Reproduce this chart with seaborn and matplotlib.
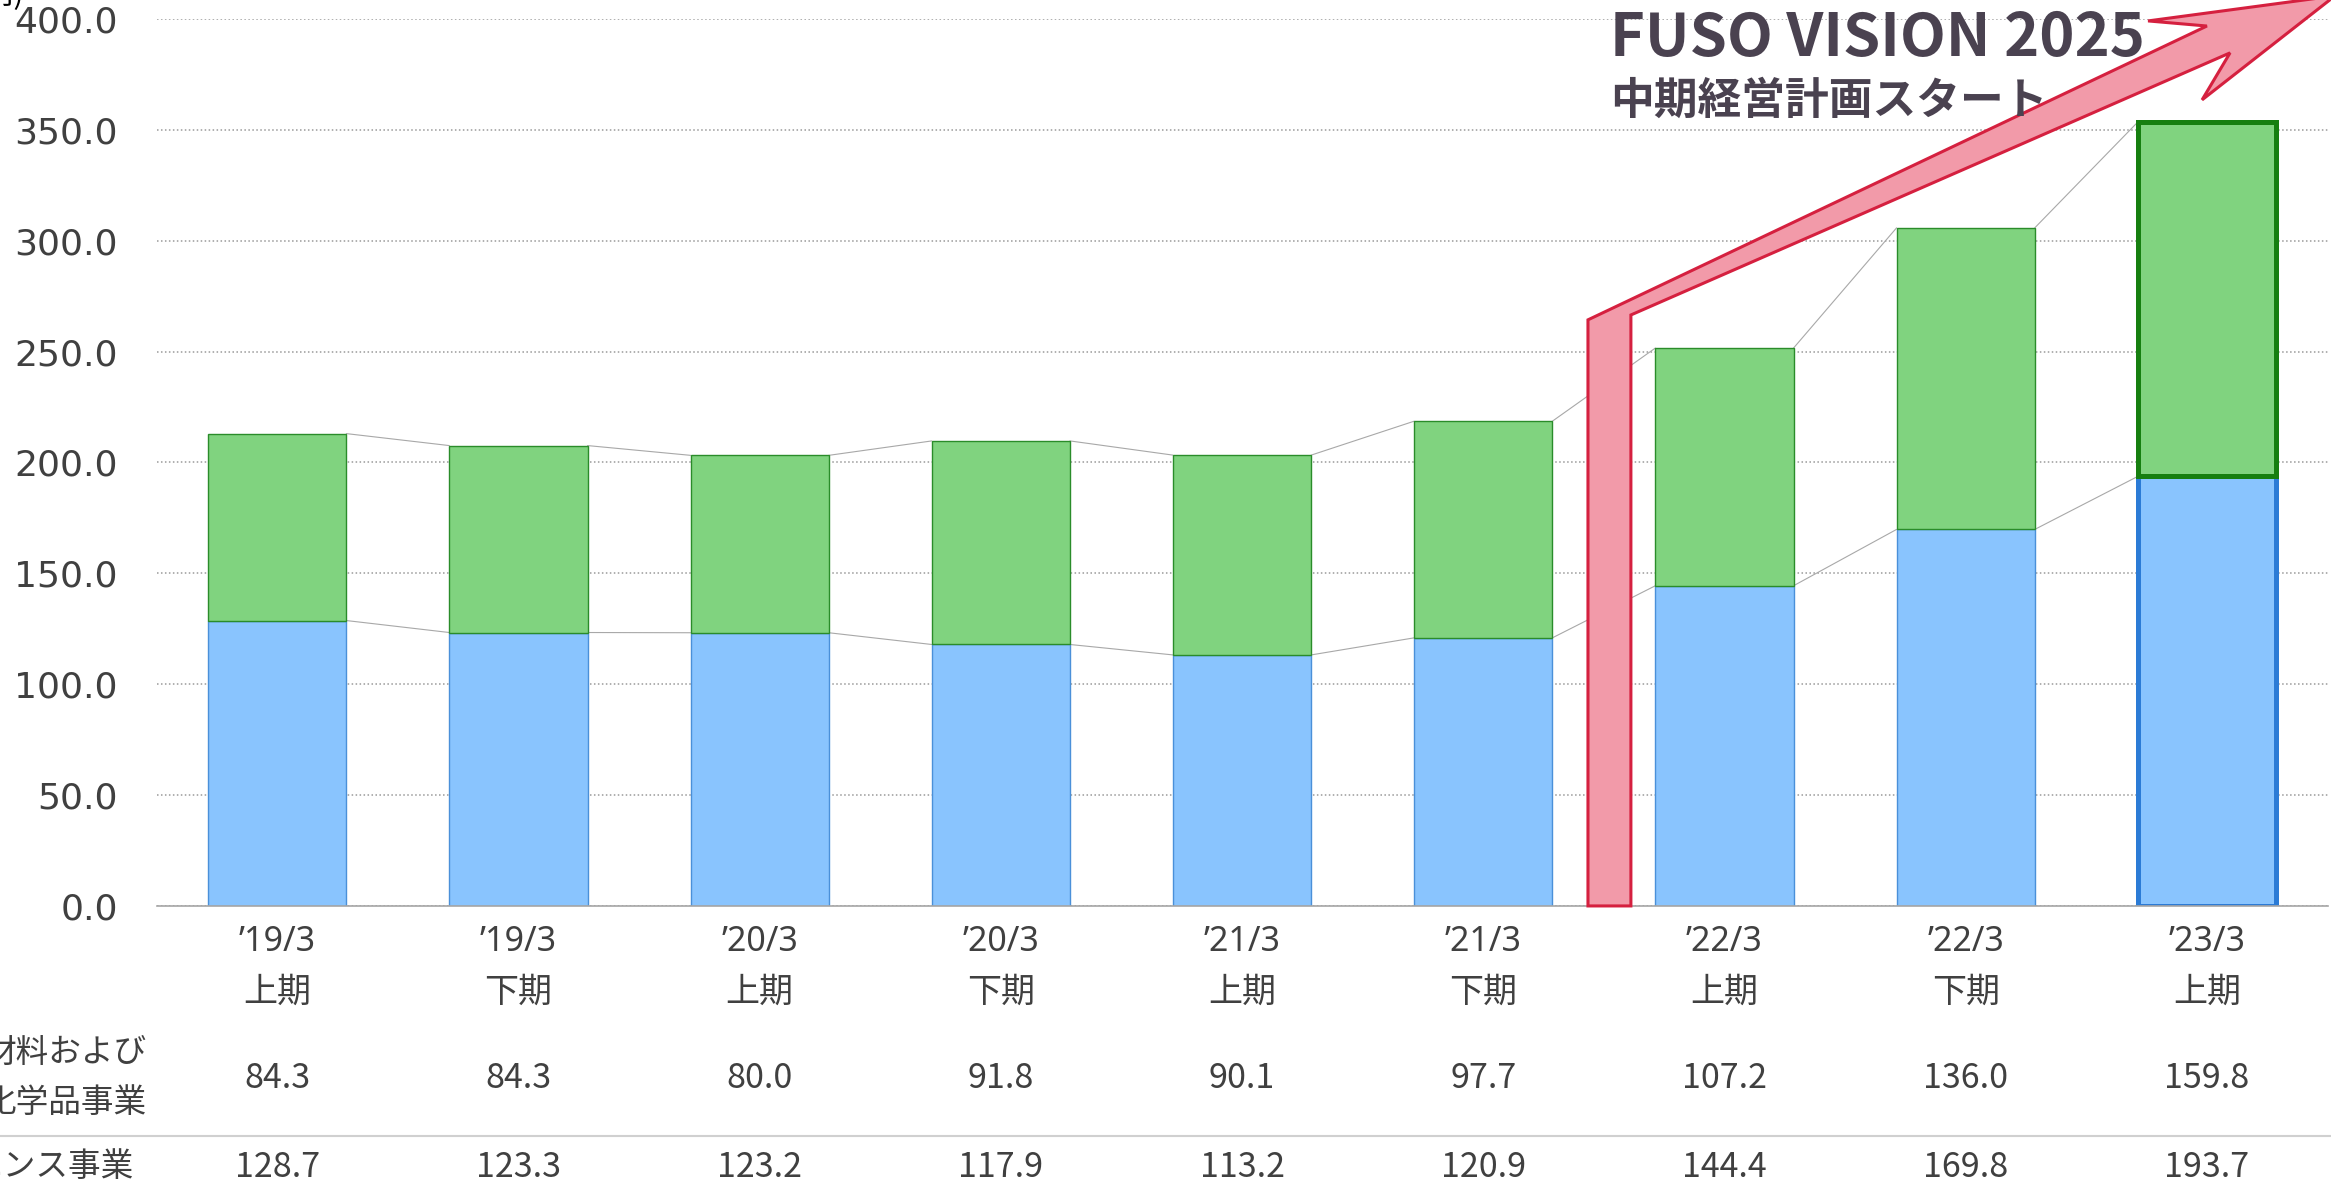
import matplotlib.pyplot as plt
import matplotlib.transforms as mtransforms
from matplotlib.lines import Line2D
from matplotlib.patches import Polygon
import pandas as pd
import seaborn as sns

periods = [
    "’19/3\n上期", "’19/3\n下期", "’20/3\n上期", "’20/3\n下期", "’21/3\n上期",
    "’21/3\n下期", "’22/3\n上期", "’22/3\n下期", "’23/3\n上期",
]
life_science = [128.7, 123.3, 123.2, 117.9, 113.2, 120.9, 144.4, 169.8, 193.7]
materials = [84.3, 84.3, 80.0, 91.8, 90.1, 97.7, 107.2, 136.0, 159.8]
row_labels = ["材料および\n化学品事業", "ライフサイエンス事業"]
y_ticks = [0, 50, 100, 150, 200, 250, 300, 350, 400]
headline = "FUSO VISION 2025"
subline = "中期経営計画スタート"
unit_label = "(億円)"

# bent arrow outline, in (category position, value) units
arrow_x = [5.434, 5.612, 5.612, 8.096, 7.980, 8.531, 7.756, 8.000, 5.434]
arrow_y = [0, 0, 266.5, 384.7, 363.5, 410.4, 399.1, 396.8, 264.3]

BLUE, BLUE_EDGE = "#89C4FE", "#4A90D9"
GREEN, GREEN_EDGE = "#80D37F", "#2A8C2A"
TEXT = "#404040"
JP = ["Noto Sans CJK JP", "DejaVu Sans"]
BAR_W = 0.573

sns.set_theme(style="white")
plt.rcParams["font.family"] = ["DejaVu Sans", "Noto Sans CJK JP"]

df = pd.DataFrame({"period": periods, "life": life_science, "materials": materials})
df["total"] = df["life"] + df["materials"]

fig = plt.figure(figsize=(23.31, 11.83), dpi=100)
ax = fig.add_axes([0.0672, 0.2342, 0.9313, 0.7498])

sns.barplot(data=df, x="period", y="life", color=BLUE, saturation=1, width=BAR_W,
            errorbar=None, edgecolor=BLUE_EDGE, linewidth=1.0, zorder=2, ax=ax)
sns.barplot(data=df, x="period", y="materials", bottom=df["life"].to_numpy(),
            color=GREEN, saturation=1, width=BAR_W, errorbar=None,
            edgecolor=GREEN_EDGE, linewidth=1.0, zorder=2, ax=ax)

# highlight latest period
n = len(df)
ax.patches[n - 1].set_edgecolor("#2B7BD6")
ax.patches[n - 1].set_linewidth(3.6)
ax.patches[2 * n - 1].set_edgecolor("#167F10")
ax.patches[2 * n - 1].set_linewidth(3.6)

# thin connectors between bar tops
half = BAR_W / 2
for tops in (df["life"], df["total"]):
    for i in range(n - 1):
        ax.plot([i + half, i + 1 - half], [tops[i], tops[i + 1]],
                color="#A8A8A8", lw=0.8, zorder=1.5)

ax.set_xlim(-0.5, n - 0.5)
ax.set_ylim(0, 400)
ax.set_yticks(y_ticks)
ax.set_yticklabels([f"{v:.1f}" for v in y_ticks])
ax.yaxis.grid(True, color="#9A9A9A", linestyle=(0, (1, 1.6)), linewidth=1.1)
ax.set_axisbelow(True)
ax.set_xlabel("")
ax.set_ylabel("")
for s in ("left", "right", "top"):
    ax.spines[s].set_visible(False)
ax.spines["bottom"].set_color("#A6A6A6")
ax.spines["bottom"].set_linewidth(1.2)
ax.tick_params(axis="y", length=0, pad=28, labelsize=26, labelcolor=TEXT)
ax.tick_params(axis="x", length=0, pad=14, labelsize=24.5, labelcolor=TEXT)
for lbl in ax.get_xticklabels():
    lbl.set_fontfamily(["Noto Sans", "Noto Sans CJK JP"])
    lbl.set_linespacing(1.62)

# arrow and headline
ax.add_patch(Polygon(list(zip(arrow_x, arrow_y)), closed=True, facecolor="#F29AA9",
                     edgecolor="#D5203F", lw=2.2, zorder=4, clip_on=False,
                     joinstyle="miter"))
ax.text(5.525, 383.3, headline, fontsize=43, fontweight="bold", family=JP,
        color="#4A4250", va="baseline", ha="left", zorder=5, clip_on=False)
ax.text(5.525, 357.2, subline, fontsize=31.5, fontweight="bold", family=JP,
        color="#4A4250", va="baseline", ha="left", zorder=5, clip_on=False)

# table below the chart
trans = mtransforms.blended_transform_factory(ax.transData, fig.transFigure)
for i in range(n):
    ax.text(i, 0.0887, f"{materials[i]:.1f}", transform=trans, ha="center",
            va="center", fontsize=24.5, family=JP, color=TEXT)
    ax.text(i, 0.0135, f"{life_science[i]:.1f}", transform=trans, ha="center",
            va="center", fontsize=24.5, family=JP, color=TEXT)
fig.text(-0.0073, 0.0887, row_labels[0], ha="left", va="center", fontsize=23.5,
         family=JP, color=TEXT, linespacing=1.72)
fig.text(0.0575, 0.0135, row_labels[1], ha="right", va="center", fontsize=23.5,
         family=JP, color=TEXT)
fig.add_artist(Line2D([0, 1], [0.0397, 0.0397], transform=fig.transFigure,
                      color="#D0D0D0", lw=1.5))
fig.text(0.0103, 0.9966, unit_label, ha="right", va="baseline", fontsize=22,
         family=JP, color="black")

fig.savefig("out.png", dpi=100)
